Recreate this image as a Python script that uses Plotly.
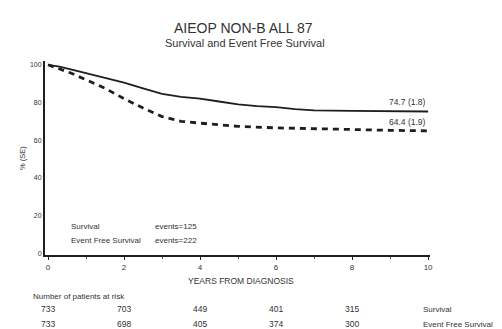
import plotly.graph_objects as go

# ---- data ----
surv_years = [0, 0.3, 0.6, 1, 1.5, 2, 2.5, 3, 3.5, 4, 4.5, 5, 5.5, 6, 6.5, 7, 8, 9, 10]
surv_pct = [100, 99, 97.5, 95.5, 93, 90.5, 87.5, 84.5, 83, 82, 80.5, 79, 78, 77.5, 76.5, 75.8, 75.5, 75.3, 75.2]
efs_years = [0, 0.3, 0.6, 1, 1.5, 2, 2.5, 3, 3.5, 4, 4.5, 5, 6, 7, 8, 9, 10]
efs_pct = [100, 98, 95.6, 92, 87.5, 82, 77, 72.5, 70, 69, 68, 67.3, 66.5, 66, 65.6, 65.2, 64.9]

risk_years = [0, 2, 4, 6, 8]
risk_surv = ["733", "703", "449", "401", "315"]
risk_efs = ["733", "698", "405", "374", "300"]

x_ticks = [0, 2, 4, 6, 8, 10]
y_ticks = [0, 20, 40, 60, 80, 100]

end_labels = ["74.7 (1.8)", "64.4 (1.9)"]
legend_names = ["Survival", "Event Free Survival"]
legend_events = ["events=125", "events=222"]

ink = "#333333"
font = "Liberation Sans, Arial, sans-serif"

# figure geometry (page has an 8px body margin)
W, H = 494, 321
ML, MR, MT, MB = 37, 72, 53, 74
PW, PH = W - ML - MR, H - MT - MB
OFF = 8


def px(x):  # reference page x -> paper x
    return (x - OFF - ML) / PW


def py(y):  # reference page y -> paper y
    return (H - MB - (y - OFF)) / PH


def f(size):
    return dict(size=size, color=ink, family=font)


def note(text, x, y, size, xanchor="center", xref="paper", **kw):
    return dict(text=text, x=x, y=py(y), xref=xref, yref="paper", xanchor=xanchor,
                yanchor="middle", showarrow=False, font=f(size), **kw)


fig = go.Figure()
fig.add_trace(go.Scatter(x=surv_years, y=surv_pct, mode="lines",
                         line=dict(color="#1e1e1e", width=1.8), showlegend=False))
fig.add_trace(go.Scatter(x=efs_years, y=efs_pct, mode="lines",
                         line=dict(color="#1e1e1e", width=2.8, dash="6px,5px"), showlegend=False))

ann = []
ann.append(note("AIEOP NON-B ALL 87", px(244), 28, 14))
ann.append(note("Survival and Event Free Survival", px(245), 43, 11))
# end labels
ann.append(note(end_labels[0], px(428), 102, 8.5, xanchor="right"))
ann.append(note(end_labels[1], px(428), 122, 8.5, xanchor="right"))
# legend text
for nm, ev, yy in zip(legend_names, legend_events, [226, 240]):
    ann.append(note(nm, px(69), yy, 8, xanchor="left"))
    ann.append(note(ev, px(153), yy, 8, xanchor="left"))
# axis titles
ann.append(note("YEARS FROM DIAGNOSIS", px(241), 281, 8.5))
ann.append(note("% (SE)", px(22), 158, 7.5, textangle=-90))
# at-risk table
ann.append(note("Number of patients at risk", px(31), 296, 8, xanchor="left"))
for yr, a, b in zip(risk_years, risk_surv, risk_efs):
    ann.append(note(a, yr, 309, 8.5, xref="x"))
    ann.append(note(b, yr, 324, 8.5, xref="x"))
ann.append(note(legend_names[0], px(421), 309, 8, xanchor="left"))
ann.append(note(legend_names[1], px(421), 324, 8, xanchor="left"))

fig.update_layout(
    width=W, height=H,
    margin=dict(l=ML, r=MR, t=MT, b=MB, autoexpand=False),
    paper_bgcolor="white", plot_bgcolor="white",
    annotations=ann,
    xaxis=dict(range=[-0.08, 10.05], tickvals=x_ticks, showline=True, linecolor="#1e1e1e",
               linewidth=2, ticks="outside", ticklen=3, tickcolor="#222", showgrid=False,
               zeroline=False, tickfont=f(8),
               minor=dict(dtick=1, ticks="outside", ticklen=2, tickcolor="#555")),
    yaxis=dict(range=[-1, 102], tickvals=y_ticks, showline=True, linecolor="#1e1e1e",
               linewidth=2, ticks="", showgrid=False, zeroline=False, tickfont=f(7)),
)

fig.write_html("out.html")
